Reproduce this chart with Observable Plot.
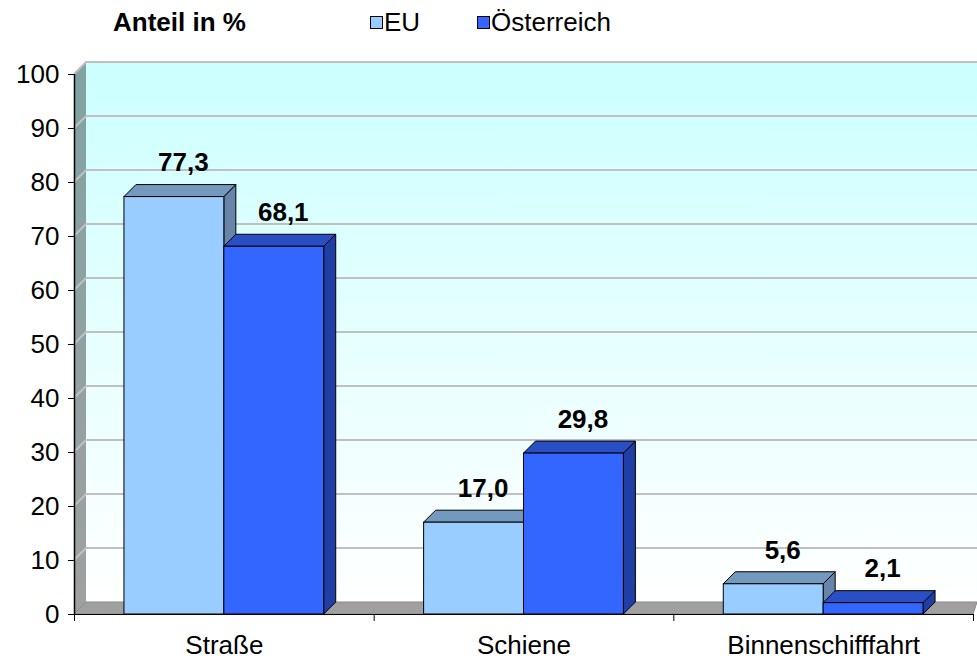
<!DOCTYPE html>
<html><head><meta charset="utf-8">
<script src="https://cdn.jsdelivr.net/npm/d3@7"></script>
<script src="https://cdn.jsdelivr.net/npm/@observablehq/plot@0.6"></script>
<style>
body{margin:0;background:#fff;font-family:"Liberation Sans",Arial,sans-serif;overflow:hidden;}
#head{position:relative;height:40px;width:977px;font-size:26px;line-height:30px;color:#000;}
#head span{position:absolute;top:7px;white-space:nowrap;}
#head .sw{width:11px;height:11px;border:1px solid #000;top:16px;}
</style></head><body>
<div id="head">
  <span style="left:113px;font-weight:bold">Anteil in %</span>
  <span class="sw" style="left:370px;background:#99ccff"></span><span style="left:384px">EU</span>
  <span class="sw" style="left:477px;background:#3366ff"></span><span style="left:491px">Österreich</span>
</div>
<div id="chart"></div>
<script>
const categories = ["Straße", "Schiene", "Binnenschifffahrt"];
const series = ["EU", "Österreich"];
const euValues = [77.3, 17.0, 5.6];
const atValues = [68.1, 29.8, 2.1];
const yTicks = [0, 10, 20, 30, 40, 50, 60, 70, 80, 90, 100];

const frontColors = ["#99ccff", "#3366ff"];
const topColors = ["#7399bf", "#2a4fc4"];
const sideColors = ["#6685a8", "#1f3ea6"];
const depth = 12;

const fmt = v => d3.format(".1f")(v).replace(".", ",");
const rows = [];
categories.forEach((c, ci) => {
  [euValues, atValues].forEach((vals, si) => {
    const x1 = ci + 1 / 6 + si / 3;
    rows.push({category: c, ci, si, series: series[si], value: vals[ci], x1, x2: x1 + 1 / 3, label: fmt(vals[ci])});
  });
});

function environment(index, scales, values, dimensions) {
  const {x, y} = scales;
  const W = dimensions.width;
  const g = d3.create("svg:g");
  const defs = g.append("defs");
  const gw = defs.append("linearGradient").attr("id", "wallGrad").attr("x1", 0).attr("y1", 0).attr("x2", 0).attr("y2", 1);
  gw.append("stop").attr("offset", "0%").attr("stop-color", "#ccffff");
  gw.append("stop").attr("offset", "100%").attr("stop-color", "#ffffff");
  const gl = defs.append("linearGradient").attr("id", "leftGrad").attr("x1", 0).attr("y1", 0).attr("x2", 0).attr("y2", 1);
  gl.append("stop").attr("offset", "0%").attr("stop-color", "#80a3a3");
  gl.append("stop").attr("offset", "100%").attr("stop-color", "#a0a0a0");
  const x0 = x(0), x3 = Math.min(x(3) + depth, W);
  const yTop = y(100), yBot = y(0);
  // back wall
  g.append("rect").attr("x", x0 + depth).attr("y", yTop - depth).attr("width", x3 - x0 - depth).attr("height", yBot - yTop).attr("fill", "url(#wallGrad)");
  // left wall
  g.append("path").attr("d", `M${x0},${yTop}L${x0 + depth},${yTop - depth}L${x0 + depth},${yBot - depth}L${x0},${yBot}Z`).attr("fill", "url(#leftGrad)");
  // gridlines
  yTicks.filter(v => v > 0).forEach(v => {
    g.append("path").attr("d", `M${x0},${y(v)}L${x0 + depth},${y(v) - depth}L${x3},${y(v) - depth}`)
      .attr("fill", "none").attr("stroke", "#c0c0c0").attr("stroke-width", 2);
  });
  // floor
  g.append("path").attr("d", `M${x0},${yBot}L${x0 + depth},${yBot - depth}L${x3},${yBot - depth}L${x(3)},${yBot}Z`)
    .attr("fill", "#a0a0a0").attr("stroke", "#8a8a8a").attr("stroke-width", 1);
  return g.node();
}

function depthFaces(index, scales) {
  const {x, y} = scales;
  const g = d3.create("svg:g").attr("stroke", "#000").attr("stroke-width", 1).attr("stroke-linejoin", "round");
  rows.forEach(d => {
    const a = x(d.x1), b = x(d.x2), t = y(d.value), z = y(0);
    g.append("path").attr("d", `M${b},${t}L${b + depth},${t - depth}L${b + depth},${z - depth}L${b},${z}Z`).attr("fill", sideColors[d.si]);
    g.append("path").attr("d", `M${a},${t}L${b},${t}L${b + depth},${t - depth}L${a + depth},${t - depth}Z`).attr("fill", topColors[d.si]);
  });
  return g.node();
}

const chart = Plot.plot({
  width: 977,
  height: 620,
  marginLeft: 74,
  marginRight: 4,
  marginTop: 34,
  marginBottom: 46,
  style: {fontFamily: "'Liberation Sans', Arial, sans-serif", fontSize: "26px", background: "white", overflow: "hidden"},
  x: {domain: [0, 3], ticks: [0, 1, 2, 3], tickFormat: () => "", tickSize: 7, label: null},
  y: {domain: [0, 100], ticks: yTicks, tickSize: 6, tickPadding: 9, label: null},
  color: {domain: series, range: frontColors},
  marks: [
    environment,
    depthFaces,
    Plot.rect(rows, {x1: "x1", x2: "x2", y1: 0, y2: "value", fill: "series", stroke: "#000", strokeWidth: 1}),
    Plot.ruleX([0], {y1: 0, y2: 100, stroke: "#000", strokeWidth: 1.5}),
    Plot.ruleY([0], {x1: 0, x2: 3, stroke: "#000", strokeWidth: 1}),
    Plot.text(rows, {x: d => (d.x1 + d.x2) / 2, y: "value", text: "label", dx: 9, dy: -34, fontWeight: "bold", fontSize: 26, fill: "#000"}),
    Plot.text(categories, {x: (d, i) => i + 0.5, y: () => 0, text: d => d, dy: 31, fontSize: 26, fill: "#000"})
  ]
});
document.getElementById("chart").appendChild(chart);
</script>
</body></html>
